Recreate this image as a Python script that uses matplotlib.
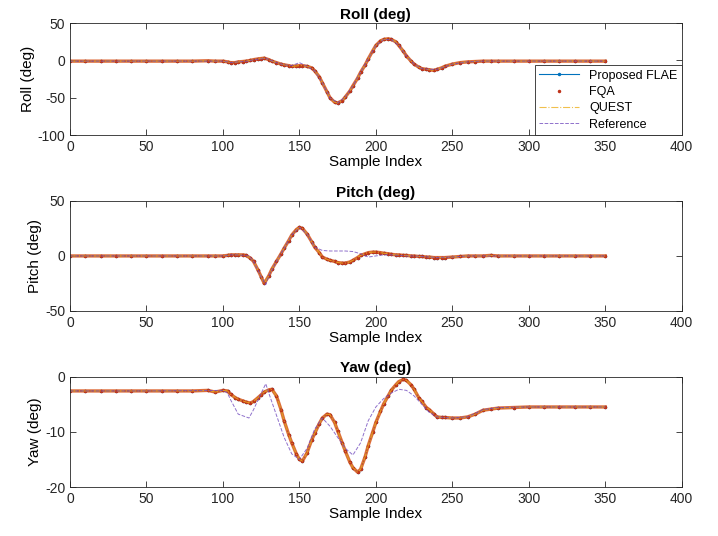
import numpy as np
import matplotlib.pyplot as plt

plt.rcParams['font.family'] = ['Liberation Sans', 'DejaVu Sans']
plt.rcParams['axes.unicode_minus'] = False

# sample positions of the estimated curves (FLAE / FQA / QUEST overlap)
samples = [0, 10, 20, 30, 40, 50, 60, 70, 80, 90, 95, 100, 103, 105, 108, 110, 113, 115,
           118, 120, 123, 125, 127, 130, 132, 135, 138, 140, 143, 145, 148, 150, 152,
           155, 158, 160, 163, 165, 168, 170, 173, 175, 178, 180, 183, 185, 188, 190,
           193, 195, 198, 200, 203, 205, 208, 210, 213, 215, 218, 220, 223, 225, 228,
           230, 233, 235, 238, 240, 243, 245, 250, 255, 260, 265, 270, 275, 280, 290,
           300, 310, 320, 330, 340, 350]

roll_est = [-1, -1, -1, -1, -1, -1, -1, -1, -1, -0.5, -1, -1, -2, -3, -3, -2, -1.5, -1,
            0, 1, 2, 2.5, 3, 1, -1, -3, -5, -6, -7, -8, -7.5, -7, -7, -8, -10, -14,
            -22, -30, -42, -50, -56, -57, -54, -49, -41, -34, -24, -16, -6, 2, 13, 20,
            26, 28, 29, 28, 25, 20, 12, 6, -1, -5, -9, -11, -12, -12.5, -13.5, -12,
            -10, -8, -5, -3, -2, -1.5, -1, -1, -1, -1, -1, -1, -1, -1, -1, -1]

pitch_est = [0, 0, 0, 0, 0, 0, 0, 0, 0, 0, 0, 0, 0.5, 1, 1, 1, 1, 0.5,
             -2, -5, -13, -19, -25, -18, -12, -5, 2, 7, 14, 19, 24, 26, 25,
             20, 13, 8, 3, -1, -3, -4, -5, -6, -6.5, -6.5, -5.5, -4, -1.5, 0.5,
             2, 3, 3.5, 3.5, 3, 2.5, 2, 1.5, 1, 1, 0.5, 0.5, 0, 0, -0.5,
             -0.5, -1, -1, -1.5, -1.5, -1.5, -1.5, -1, -0.5, 0, 0, 0, 0.5, 0, 0,
             0, 0, 0, 0, 0, 0]

yaw_est = [-2.6, -2.6, -2.6, -2.6, -2.6, -2.6, -2.6, -2.6, -2.6, -2.5, -2.8, -2.5, -2.6, -3.2, -3.8, -4.1, -4.4, -4.6,
           -4.8, -4.5, -3.8, -3.3, -2.8, -2.4, -2.3, -3.5, -6, -8, -10.5, -12, -14, -15, -15.3,
           -13.8, -11.5, -10.3, -8.5, -7.5, -6.8, -6.9, -8.3, -9.8, -12, -13.5, -15.5, -16.5, -17.3, -16.8,
           -14.5, -12.5, -10, -8.3, -6.3, -5, -3.5, -2.5, -1.5, -0.9, -0.5, -0.7, -1.5, -2.3, -3.8,
           -4.5, -5.6, -6, -6.8, -7.3, -7.4, -7.4, -7.5, -7.5, -7.3, -6.8, -6.1, -5.9, -5.7, -5.6,
           -5.5, -5.5, -5.5, -5.5, -5.5, -5.5]

# reference (ground truth) sampled more coarsely
ref_samples = [0, 50, 100, 103, 105, 110, 117, 120, 125, 128, 130, 135, 140, 145, 150, 155,
               160, 165, 170, 175, 180, 185, 190, 195, 200, 205, 210, 215, 220, 225, 230,
               235, 240, 250, 260, 270, 280, 300, 350]
roll_ref = [-1, -1, -1, -2, -3, -2, -1, 1, 2, 3, 1, -3, -6, -7, -3, -8, -14, -30, -50,
            -57, -49, -34, -16, 2, 20, 28, 28, 20, 6, -5, -11, -12, -12, -5, -2, -1, -1, -1, -1]
pitch_ref = [0, 0, 0, 0.5, 1, 1, 0, -5, -19, -26, -18, -5, 7, 19, 26, 20, 8, 5, 4.5, 4.5,
             4.5, 4, 2, -1, 0, 1, 1, 0.5, 0, 0, -0.5, -1, -1.5, -1, 0, 0, 0, 0, 0]
yaw_ref = [-2.6, -2.6, -2.5, -3, -4.2, -6.8, -7.5, -6, -3, -1.3, -3, -7, -11, -14, -15, -13,
           -9.5, -7.5, -9, -11, -13, -14.2, -12, -8, -5.5, -4, -3, -2.3, -2.5, -3.5, -5,
           -6.5, -7.3, -7.5, -7.3, -6, -5.6, -5.5, -5.5]

titles = ['Roll (deg)', 'Pitch (deg)', 'Yaw (deg)']
ylabels = ['Roll (deg)', 'Pitch (deg)', 'Yaw (deg)']
ylims = [(-100, 50), (-50, 50), (-20, 0)]
yticks = [[-100, -50, 0, 50], [-50, 0, 50], [-20, -10, 0]]
est = [roll_est, pitch_est, yaw_est]
ref = [roll_ref, pitch_ref, yaw_ref]

c_flae = (0, 0.447, 0.741)
c_fqa = (0.85, 0.325, 0.098)
c_quest = (0.929, 0.694, 0.125)
c_ref = (0.45, 0.3, 0.75)

fig = plt.figure(figsize=(7.18, 5.36), dpi=100)
rects = [[0.0975, 0.748, 0.852, 0.209],
         [0.0975, 0.420, 0.852, 0.205],
         [0.0975, 0.0914, 0.852, 0.206]]

for i in range(3):
    ax = fig.add_axes(rects[i])
    ax.plot(samples, est[i], '-', color=c_flae, lw=0.8, marker='.', ms=3, label='Proposed FLAE')
    ax.plot(samples, est[i], '-', color=c_fqa, lw=2.4, alpha=0.85)
    ax.plot(samples, est[i], '.', color=(0.75, 0.2, 0.1), ms=3, label='FQA', linestyle='none')
    ax.plot(samples, est[i], '-.', color=c_quest, lw=0.8, alpha=0.8, label='QUEST')
    ax.plot(ref_samples, ref[i], '--', color=c_ref, lw=0.7, alpha=0.8, label='Reference')
    ax.set_xlim(0, 400)
    ax.set_ylim(*ylims[i])
    ax.set_xticks(range(0, 401, 50))
    ax.set_yticks(yticks[i])
    ax.tick_params(direction='in', top=True, right=True, labelsize=10,
                   length=4, width=0.6, colors='#262626')
    for sp in ax.spines.values():
        sp.set_linewidth(0.6)
        sp.set_color('#262626')
    ax.set_title(titles[i], fontsize=11, fontweight='bold', pad=3)
    ax.set_xlabel('Sample Index', fontsize=11, labelpad=1)
    ax.set_ylabel(ylabels[i], fontsize=11, labelpad=2)
    if i == 0:
        h, l = ax.get_legend_handles_labels()
        leg = ax.legend(h, l, loc='lower right', fontsize=9, fancybox=False,
                        borderaxespad=0, handlelength=3.2, labelspacing=0.35,
                        borderpad=0.35, framealpha=1)
        leg.get_frame().set_linewidth(0.6)
        leg.get_frame().set_edgecolor('#262626')

fig.savefig('out.png', dpi=100)
